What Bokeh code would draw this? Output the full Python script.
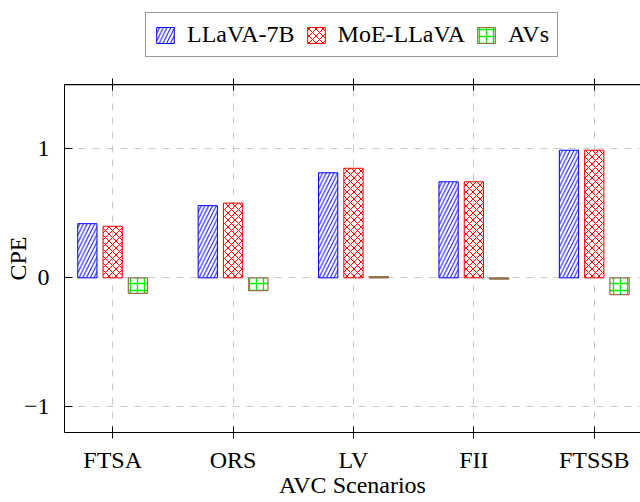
from bokeh.plotting import figure
from bokeh.models import (Range1d, FixedTicker, LinearAxis, Legend, LegendItem,
                          ColumnDataSource, Grid, Span)
from bokeh.layouts import column
from bokeh.transform import dodge
from bokeh.embed import file_html
from bokeh.resources import INLINE

categories = ["FTSA", "ORS", "LV", "FII", "FTSSB"]
llava_7b = [0.42, 0.56, 0.815, 0.745, 0.99]
moe_llava = [0.40, 0.58, 0.85, 0.745, 0.99]
avs = [-0.12, -0.10, 0.01, -0.01, -0.13]
series_names = ["LLaVA-7B", "MoE-LLaVA", "AVs"]
y_ticks = [-1, 0, 1]
y_tick_labels = ["\u22121", "0", "1"]
Y_MIN, Y_MAX = -1.2, 1.5

FONT = "Liberation Serif"
FS = "24px"

styles = [
    dict(line_color="#0000ff", line_width=1, hatch_pattern="/",
         hatch_color="#0000ff", hatch_scale=7.5, hatch_weight=1),
    dict(line_color="#ff0000", line_width=1, hatch_pattern="x",
         hatch_color="#ff0000", hatch_scale=7, hatch_weight=1),
    dict(line_color="#94704a", line_width=1.2, hatch_pattern="+",
         hatch_color="#00ee00", hatch_scale=7, hatch_weight=1.3),
]
fields = ["llava", "moe", "avs"]
offsets = [-0.21, 0.0, 0.21]

src = ColumnDataSource(dict(x=list(range(len(categories))),
                            llava=llava_7b, moe=moe_llava, avs=avs))

# ---------------- main plot ----------------
p = figure(width=640, height=440, output_backend="svg", toolbar_location=None,
           x_range=Range1d(-0.4, 4.384), y_range=Range1d(Y_MIN, Y_MAX),
           min_border_left=64, min_border_right=0, min_border_top=22,
           min_border_bottom=70, x_axis_type=None, y_axis_type=None)
p.outline_line_color = None
p.background_fill_color = "white"
p.border_fill_color = "white"

xticker = FixedTicker(ticks=list(range(len(categories))))
yticker = FixedTicker(ticks=y_ticks)

def style_axis(ax):
    ax.axis_line_color = "black"
    ax.axis_line_width = 1
    ax.major_tick_line_color = "black"
    ax.major_tick_line_width = 1
    ax.minor_tick_line_color = None
    ax.major_label_text_font = FONT
    ax.major_label_text_font_size = FS
    ax.major_label_text_color = "black"
    ax.axis_label_text_font = FONT
    ax.axis_label_text_font_size = FS
    ax.axis_label_text_font_style = "normal"
    ax.axis_label_text_color = "black"

xaxis = LinearAxis(ticker=xticker, axis_label="AVC Scenarios",
                   major_label_overrides={i: c for i, c in enumerate(categories)})
style_axis(xaxis)
xaxis.major_tick_in = 6
xaxis.major_tick_out = 6
xaxis.major_label_standoff = 8
xaxis.axis_label_standoff = -4
p.add_layout(xaxis, "below")

yaxis = LinearAxis(ticker=yticker, axis_label="CPE",
                   major_label_overrides={t: l for t, l in zip(y_ticks, y_tick_labels)})
style_axis(yaxis)
yaxis.major_tick_in = 8
yaxis.major_tick_out = 0
yaxis.major_label_standoff = 15
yaxis.axis_label_standoff = -10
p.add_layout(yaxis, "left")

# top axis: tick marks only (labels transparent)
top_axis = LinearAxis(ticker=xticker,
                      major_label_overrides={i: c for i, c in enumerate(categories)})
style_axis(top_axis)
top_axis.major_tick_in = 6
top_axis.major_tick_out = 6
top_axis.major_label_text_font_size = "8px"
top_axis.major_label_text_alpha = 0
top_axis.major_label_standoff = 0
p.add_layout(top_axis, "above")

gx = Grid(dimension=0, ticker=xticker, grid_line_color="#c8c8c8",
          grid_line_dash="7 7", grid_line_width=1)
gy = Grid(dimension=1, ticker=yticker, grid_line_color="#c8c8c8",
          grid_line_dash="7 7", grid_line_width=1)
p.add_layout(gx)
p.add_layout(gy)

# top frame edge
p.add_layout(Span(location=Y_MAX, dimension="width", line_color="black",
                  line_width=1.5))

for f, off, st in zip(fields, offsets, styles):
    p.vbar(x=dodge("x", off, range=p.x_range), top=f, width=0.16,
           source=src, fill_color=None, **st)

# ---------------- legend strip ----------------
lf = figure(width=640, height=62, output_backend="svg", toolbar_location=None,
            x_range=Range1d(1000, 1001), y_range=Range1d(1000, 1001),
            min_border_left=64, min_border_right=0, min_border_top=0,
            min_border_bottom=0, x_axis_type=None, y_axis_type=None)
lf.outline_line_color = None
lf.xgrid.visible = False
lf.ygrid.visible = False
lf.background_fill_color = "white"
lf.border_fill_color = "white"
items = []
for name, f, st in zip(series_names, fields, styles):
    r = lf.vbar(x="x", top=f, width=0.16, source=src, fill_color=None, **st)
    items.append(LegendItem(label=name, renderers=[r]))
legend = Legend(items=items, orientation="horizontal", location=(81, 5))
legend.label_text_font = FONT
legend.label_text_font_size = FS
legend.label_text_color = "black"
legend.glyph_width = 22
legend.glyph_height = 20
legend.label_standoff = 11
legend.spacing = 10
legend.padding = 8
legend.margin = 0
legend.border_line_color = "#333333"
legend.border_line_width = 1.3
legend.background_fill_color = "white"
legend.background_fill_alpha = 1
lf.add_layout(legend, "center")

layout = column(lf, p, spacing=0)
open("out.html", "w").write(file_html(layout, INLINE))
